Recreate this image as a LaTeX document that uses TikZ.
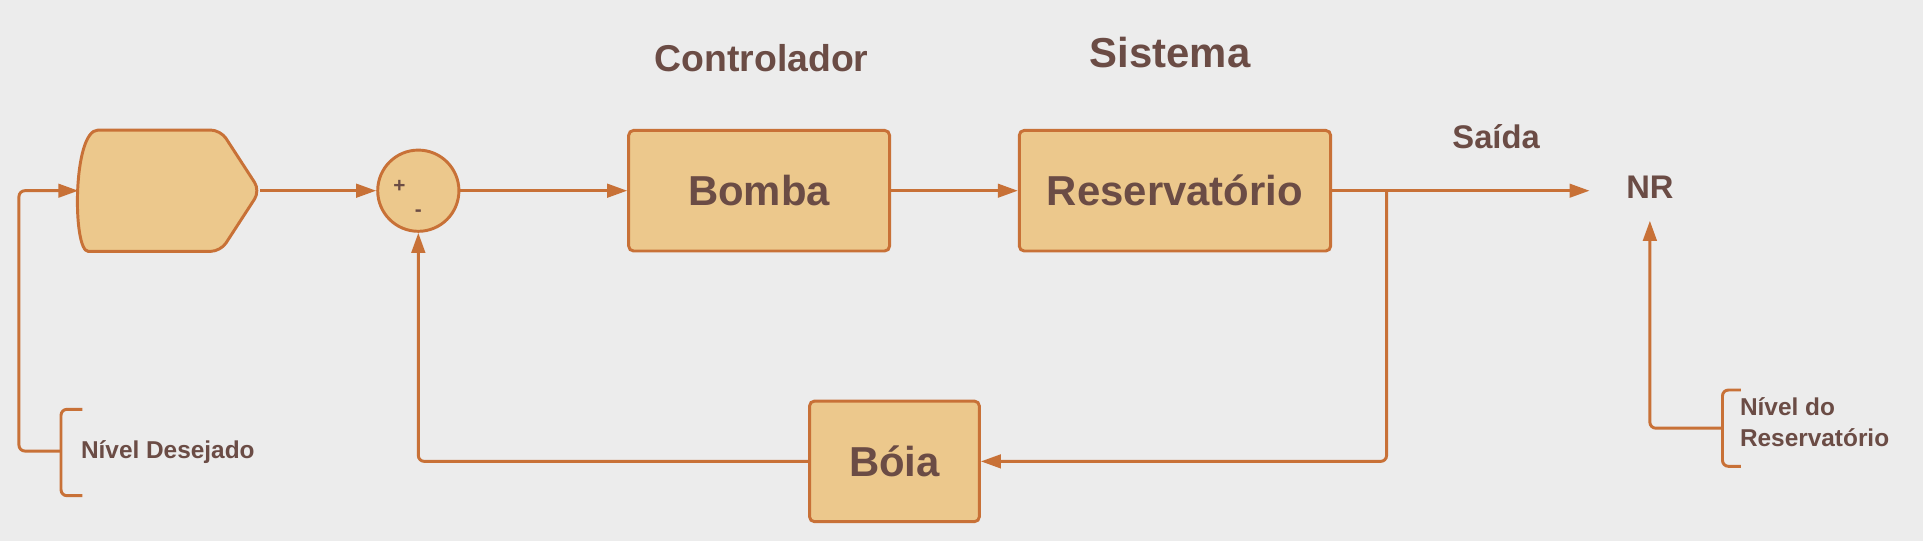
\documentclass[tikz,border=0pt]{standalone}
\usepackage{fontspec}
\setmainfont{Liberation Sans}
\usetikzlibrary{arrows.meta, positioning, calc}
\definecolor{bgcol}{HTML}{ECECEC}
\definecolor{boxfill}{HTML}{ECC88C}
\definecolor{boxline}{HTML}{C87137}
\definecolor{txtcol}{HTML}{6B4C45}
\tikzset{
    block/.style={draw=boxline, fill=boxfill, line width=1.7pt, rounded corners=0.1cm,
        minimum height=2.45cm, text=txtcol, text height=17.4pt, text depth=0pt,
        font=\bfseries\fontsize{24.2pt}{29pt}\selectfont},
    sumnode/.style={circle, draw=boxline, fill=boxfill, line width=1.7pt, minimum size=1.65cm, inner sep=0pt},
    sign/.style={text=txtcol, inner sep=0pt, font=\bfseries\fontsize{12pt}{14pt}\selectfont},
    flow/.style={draw=boxline, line width=1.7pt, rounded corners=0.12cm,
        -{Triangle[length=11.6pt, width=7.8pt]}},
    bracket/.style={draw=boxline, line width=1.7pt, rounded corners=0.12cm},
    title/.style={text=txtcol, inner sep=0pt, anchor=base, font=\bfseries\fontsize{21.6pt}{26pt}\selectfont},
    bigtitle/.style={title, font=\bfseries\fontsize{24.2pt}{29pt}\selectfont},
    sublabel/.style={text=txtcol, inner sep=0pt, anchor=base, font=\bfseries\fontsize{18.9pt}{23pt}\selectfont},
    note/.style={text=txtcol, inner sep=0pt, font=\bfseries\fontsize{14.1pt}{17.8pt}\selectfont}
}
\begin{document}
\begin{tikzpicture}[x=0.025cm, y=-0.025cm]
    \fill[bgcol] (0,0) rectangle (1563,439.7);
    \useasboundingbox (0,0) rectangle (1563,439.7);
    % titles
    \node[title] (ctrl) at (619,58.4) {Controlador};
    \node[bigtitle] (sys) at (951,54.5) {Sistema};
    \node[sublabel] (saida) at (1216,120.6) {Saída};
    \node[sublabel] (nr) at (1341,161.2) {NR};
    % blocks
    \node[minimum width=3.675cm, minimum height=2.45cm] (ref) at (137.5,155) {};
    \draw[draw=boxline, fill=boxfill, line width=1.7pt, rounded corners=0.2cm]
        (ref.north) -- ([xshift=-0.8cm]ref.north east) -- (ref.east)
        -- ([xshift=-0.8cm]ref.south east) -- ([xshift=0.4cm]ref.south west)
        [sharp corners] .. controls ([xshift=-0.12cm]ref.south west) and ([xshift=-0.12cm]ref.north west)
        .. ([xshift=0.4cm]ref.north west) -- cycle;
    \node[sumnode] (sum) at (340,155) {};
    \node[sign] (plus) at (324.6,151.2) {+};
    \node[sign] (minus) at (340,173.4) {-};
    \node[block, minimum width=5.3cm] (bomba) at (617,155) {Bomba};
    \node[block, minimum width=6.325cm] (res) at (955,155) {Reservatório};
    \node[block, minimum width=3.45cm] (boia) at (727,375) {Bóia};
    % forward path
    \draw[flow] (ref.east) -- (sum.west);
    \draw[flow] (sum.east) -- (bomba.west);
    \draw[flow] (bomba.east) -- (res.west);
    \coordinate (outend) at (1292,155);
    \draw[flow] (res.east) -- (outend);
    % feedback
    \coordinate (tap) at (1127,155);
    \draw[flow] (tap) |- (boia.east);
    \draw[flow] (boia.west) -| (sum.south);
    % brackets
    \draw[bracket] (66.9,332.7) -- (49.6,332.7) -- (49.6,402.9) -- (66.9,402.9);
    \coordinate (lb) at (49.6,366.6);
    \draw[flow] (lb) -- (15.4,366.6) |- (ref.west);
    \node[note, anchor=base west] (lvldes) at (65.6,372.5) {Nível Desejado};
    \draw[bracket] (1415,317) -- (1400,317) -- (1400,379) -- (1415,379);
    \coordinate (rb) at (1400,348);
    \coordinate[below=0.455cm of nr.base] (nrin);
    \draw[flow] (rb) -| (nrin);
    \node[note, anchor=west, align=left] (lvlres) at (1414,343) {Nível do\\Reservatório};
\end{tikzpicture}
\end{document}
